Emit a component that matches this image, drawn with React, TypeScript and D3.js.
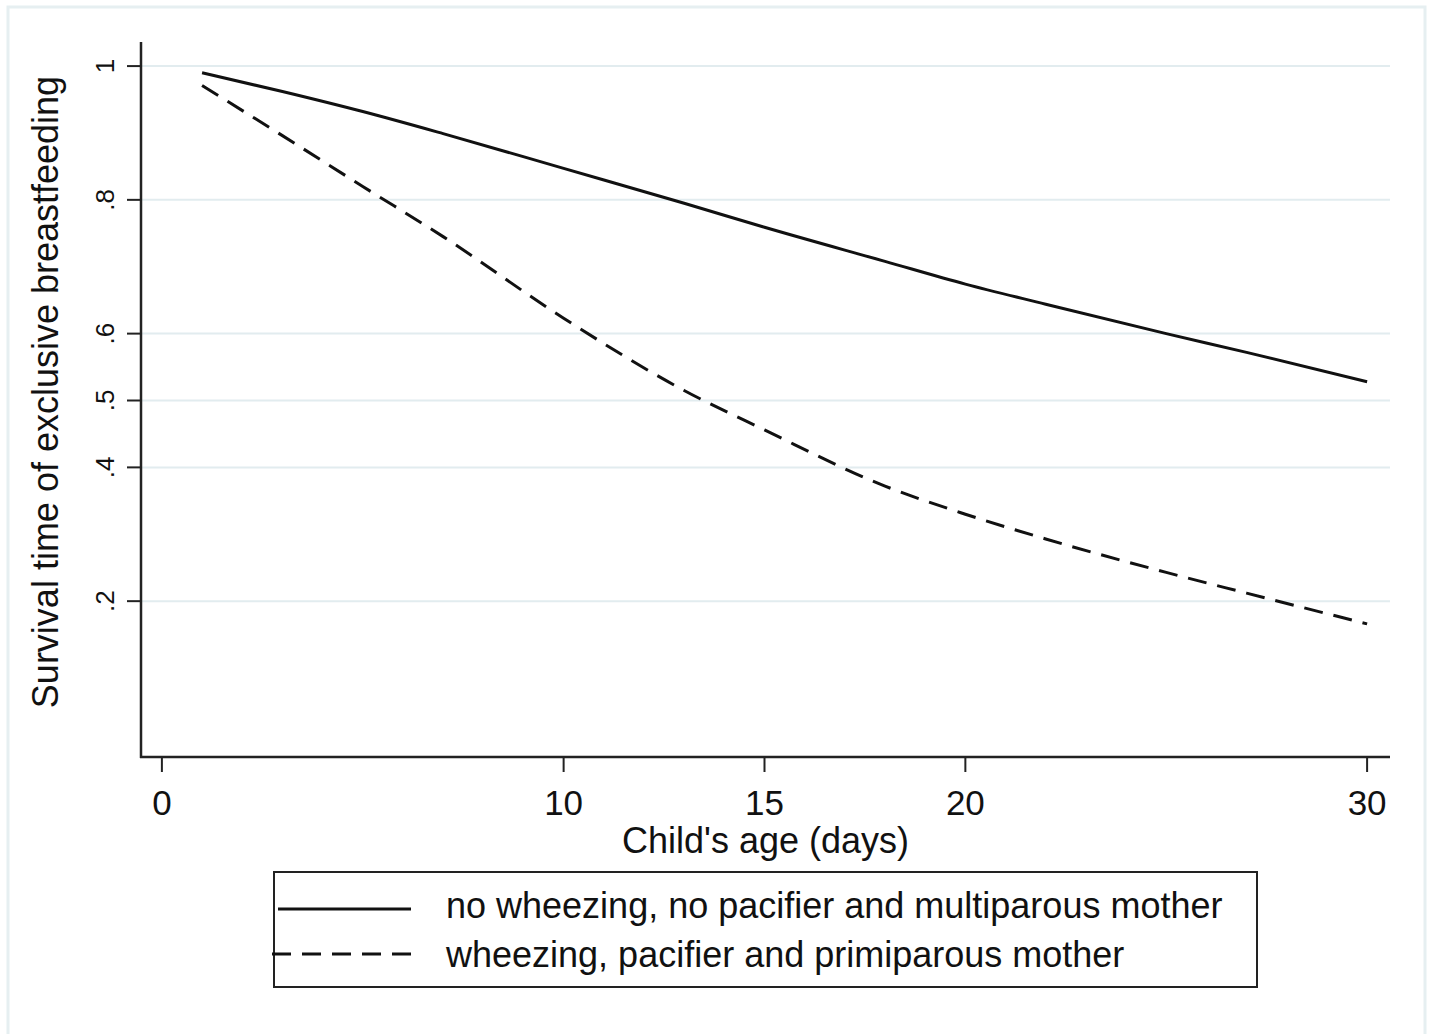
import { useEffect, useRef } from 'react';
import * as d3 from 'd3';

const WIDTH = 1429;
const HEIGHT = 1034;
const FONT = '"Liberation Sans", Arial, Helvetica, sans-serif';

// (days, survival proportion)
const days = [1, 3, 5, 7, 10, 13, 15, 18, 20, 22, 25, 27, 30];
const noWheezing = [0.99, 0.962, 0.932, 0.899, 0.847, 0.795, 0.759, 0.708, 0.674, 0.644, 0.6, 0.572, 0.528];
const wheezing = [0.971, 0.896, 0.82, 0.745, 0.623, 0.515, 0.456, 0.372, 0.33, 0.293, 0.243, 0.212, 0.166];

const xTicks = [0, 10, 15, 20, 30];
const yTicks = [1, 0.8, 0.6, 0.5, 0.4, 0.2];
const yTickLabels = ['1', '.8', '.6', '.5', '.4', '.2'];

const legendLabels = [
  'no wheezing, no pacifier and multiparous mother',
  'wheezing, pacifier and primiparous mother',
];

const PLOT = { left: 141, right: 1390, top: 42, bottom: 757 };

export default function App() {
  const svgRef = useRef<SVGSVGElement | null>(null);

  useEffect(() => {
    const svg = d3.select(svgRef.current);
    svg.selectAll('*').remove();

    const x = d3.scaleLinear().domain([-0.52, 30.57]).range([PLOT.left, PLOT.right]);
    const y = d3.scaleLinear().domain([-0.033, 1.036]).range([PLOT.bottom, PLOT.top]);

    // outer frame
    svg.append('rect')
      .attr('x', 8).attr('y', 7).attr('width', 1417).attr('height', 1040)
      .attr('fill', 'white').attr('stroke', '#e6eff1').attr('stroke-width', 3);

    // grid
    svg.append('g')
      .selectAll('line')
      .data(yTicks)
      .join('line')
      .attr('x1', PLOT.left).attr('x2', PLOT.right)
      .attr('y1', (d) => y(d)).attr('y2', (d) => y(d))
      .attr('stroke', '#e2ecef').attr('stroke-width', 2);

    // curves
    const line = d3.line<number>()
      .x((_, i) => x(days[i]))
      .y((d) => y(d))
      .curve(d3.curveMonotoneX);

    svg.append('path')
      .datum(noWheezing)
      .attr('d', line)
      .attr('fill', 'none')
      .attr('stroke', '#111')
      .attr('stroke-width', 3);

    svg.append('path')
      .datum(wheezing)
      .attr('d', line)
      .attr('fill', 'none')
      .attr('stroke', '#111')
      .attr('stroke-width', 3)
      .attr('stroke-dasharray', '19 11');

    // axes
    svg.append('line')
      .attr('x1', PLOT.left).attr('x2', PLOT.left)
      .attr('y1', PLOT.top).attr('y2', PLOT.bottom + 1)
      .attr('stroke', '#222').attr('stroke-width', 2.5);
    svg.append('line')
      .attr('x1', PLOT.left - 1).attr('x2', PLOT.right)
      .attr('y1', PLOT.bottom).attr('y2', PLOT.bottom)
      .attr('stroke', '#222').attr('stroke-width', 2.5);

    // y ticks + labels
    const yg = svg.append('g');
    yg.selectAll('line')
      .data(yTicks)
      .join('line')
      .attr('x1', PLOT.left - 14).attr('x2', PLOT.left)
      .attr('y1', (d) => y(d)).attr('y2', (d) => y(d))
      .attr('stroke', '#222').attr('stroke-width', 2);
    yg.selectAll('text')
      .data(yTicks)
      .join('text')
      .attr('transform', (d) => `translate(114,${y(d)}) rotate(-90)`)
      .attr('text-anchor', 'middle')
      .style('font-family', FONT)
      .style('font-size', '26px')
      .attr('fill', '#111')
      .text((_, i) => yTickLabels[i]);

    // x ticks + labels
    const xg = svg.append('g');
    xg.selectAll('line')
      .data(xTicks)
      .join('line')
      .attr('x1', (d) => x(d)).attr('x2', (d) => x(d))
      .attr('y1', PLOT.bottom).attr('y2', PLOT.bottom + 15)
      .attr('stroke', '#222').attr('stroke-width', 2);
    xg.selectAll('text')
      .data(xTicks)
      .join('text')
      .attr('x', (d) => x(d))
      .attr('y', 815)
      .attr('text-anchor', 'middle')
      .style('font-family', FONT)
      .style('font-size', '35px')
      .attr('fill', '#111')
      .text((d) => String(d));

    // axis titles
    svg.append('text')
      .attr('x', (PLOT.left + PLOT.right) / 2)
      .attr('y', 853)
      .attr('text-anchor', 'middle')
      .style('font-family', FONT)
      .style('font-size', '36px')
      .attr('fill', '#111')
      .text("Child's age (days)");

    svg.append('text')
      .attr('transform', 'translate(58,392) rotate(-90)')
      .attr('text-anchor', 'middle')
      .style('font-family', FONT)
      .style('font-size', '36px')
      .attr('fill', '#111')
      .text('Survival time of exclusive breastfeeding');

    // legend
    const lg = svg.append('g');
    lg.append('rect')
      .attr('x', 274).attr('y', 872).attr('width', 983).attr('height', 115)
      .attr('fill', 'white').attr('stroke', '#222').attr('stroke-width', 2);
    const rows = [
      { y: 909, ty: 918, dash: null },
      { y: 954, ty: 967, dash: '19 11' },
    ];
    rows.forEach((r, i) => {
      const l = lg.append('line')
        .attr('x1', i === 0 ? 278 : 272).attr('x2', 411)
        .attr('y1', r.y).attr('y2', r.y)
        .attr('stroke', '#111').attr('stroke-width', 3);
      if (r.dash) l.attr('stroke-dasharray', r.dash);
      lg.append('text')
        .attr('x', 446).attr('y', r.ty)
        .style('font-family', FONT)
        .style('font-size', '36px')
        .attr('fill', '#111')
        .text(legendLabels[i]);
    });
  }, []);

  return (
    <div style={{ position: 'absolute', left: 0, top: 0, background: 'white' }}>
      <svg ref={svgRef} width={WIDTH} height={HEIGHT} style={{ display: 'block' }} />
    </div>
  );
}
